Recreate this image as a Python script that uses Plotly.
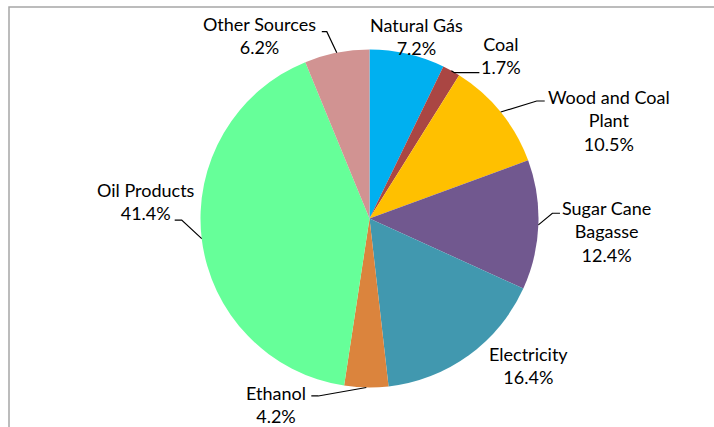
import math
import plotly.graph_objects as go

# ---- data ----
labels = ["Natural Gás", "Coal", "Wood and Coal Plant", "Sugar Cane Bagasse",
          "Electricity", "Ethanol", "Oil Products", "Other Sources"]
label_text = ["Natural Gás", "Coal", "Wood and Coal<br>Plant", "Sugar Cane<br>Bagasse",
              "Electricity", "Ethanol", "Oil Products", "Other Sources"]
values = [7.2, 1.7, 10.5, 12.4, 16.4, 4.2, 41.4, 6.2]
colors = ["#00B0F0", "#AA4643", "#FFC000", "#71588F",
          "#4198AF", "#DB843D", "#66FF99", "#D19392"]

# ---- layout / style ----
W, H = 714, 427
CX, CY, R = 369.5, 218.5, 169
FONT = "Lato"
FS = 18
# label centre offsets (px) from the slice's outer mid-point
text_off = [(8.6, -17.8), (49.6, -15.1), (107.8, 8), (68.6, 7.1),
            (59.2, 9.8), (-90.3, 17.5), (-55.7, -36.9), (-77.3, -16.7)]
# leader lines: (elbow offset, end offset) from slice outer mid-point, None = no line
leaders = [None, ((3, 2), (28, 2)), ((36, -11), (44, -11)), ((14, -11.6), (21.6, -11.6)),
           None, ((-48, 8.5), (-55, 8.5)), ((-20, -18.6), (-27, -18.6)), ((-10, -21), (-15, -21))]


def px(x):
    return x / W


def py(y):
    return 1 - y / H


fig = go.Figure(go.Pie(
    labels=labels, values=values, sort=False, direction="clockwise", rotation=0,
    marker=dict(colors=colors, line=dict(width=0)),
    textinfo="none", hoverinfo="label+percent", showlegend=False,
    domain=dict(x=[px(CX - R), px(CX + R)], y=[py(CY + R), py(CY - R)]),
))

total = sum(values)
cum = 0.0
annotations = []
shapes = []
for i, v in enumerate(values):
    mid = (cum + v / 2) / total * 2 * math.pi
    cum += v
    ax = CX + R * math.sin(mid)
    ay = CY - R * math.cos(mid)
    pct = f"{v / total * 100:.1f}%"
    dx, dy = text_off[i]
    annotations.append(dict(
        x=px(ax + dx), y=py(ay + dy), xref="paper", yref="paper",
        text=f"{label_text[i]}<br>{pct}", showarrow=False,
        xanchor="center", yanchor="middle", align="center",
        font=dict(family=FONT, size=FS, color="#000000"),
    ))
    if leaders[i] is not None:
        (ex, ey), (fx, fy) = leaders[i]
        path = (f"M {px(ax)} {py(ay)} L {px(ax + ex)} {py(ay + ey)} "
                f"L {px(ax + fx)} {py(ay + fy)}")
        shapes.append(dict(type="path", path=path, xref="paper", yref="paper",
                           line=dict(color="#000000", width=1.2)))

# chart frame (cropped on the right and bottom)
shapes.append(dict(type="rect", xref="paper", yref="paper",
                   x0=px(9), y0=-0.02, x1=1.02, y1=py(7),
                   line=dict(color="#A6A6A6", width=1.5), layer="below"))

fig.update_layout(
    width=W, height=H, margin=dict(l=0, r=0, t=0, b=0),
    paper_bgcolor="#FFFFFF", plot_bgcolor="#FFFFFF",
    annotations=annotations, shapes=shapes,
    font=dict(family=FONT),
)

fig.write_html("out.html")
